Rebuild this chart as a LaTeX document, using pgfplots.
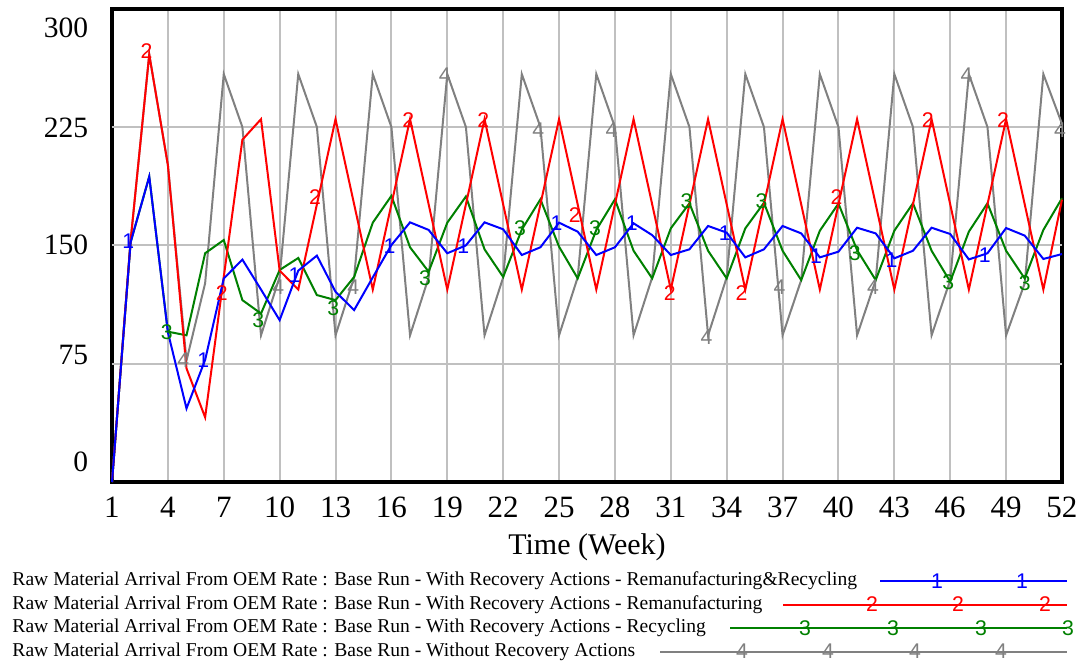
\documentclass[border=0pt]{standalone}
\usepackage{fontspec}
\setmainfont{Liberation Serif}
\newfontfamily\markfont{Liberation Sans}
\usepackage{pgfplots}
\pgfplotsset{compat=1.18}

\definecolor{vblue}{RGB}{0,0,255}
\definecolor{vred}{RGB}{255,0,0}
\definecolor{vgreen}{RGB}{0,128,0}
\definecolor{vgray}{RGB}{128,128,128}
\definecolor{vgrid}{RGB}{192,192,192}

\newcommand\mk{\markfont\fontsize{8.5}{8.5}\selectfont}
\newcommand\legfont{\fontsize{7.83}{9}\selectfont}

\pgfplotsset{
  vline/.style={line width=0.8pt, mark=none},
  vmark/.style={only marks, mark=text, text mark={#1}, text mark as node=true},
}

\begin{document}
\begin{tikzpicture}
\begin{axis}[
  scale only axis,
  width=380pt, height=189.3pt,
  xmin=1, xmax=52, ymin=0, ymax=300,
  clip=false,
  xtick={1,4,...,52},
  xmajorgrids=true,
  ytick={12.5,80.4,150.3,224.6,287.9},
  yticklabels={0,75,150,225,300},
  extra y ticks={75,150,225},
  extra y tick labels={},
  extra y tick style={ymajorgrids=true},
  grid style={vgrid, line width=0.8pt},
  major tick length=0pt,
  axis line style={line width=1.4pt},
  /pgf/number format/assume math mode=true,
  xticklabel style={font=\fontsize{12.4}{12.4}\selectfont, yshift=-2.4pt},
  yticklabel style={font=\fontsize{11.8}{11.8}\selectfont, xshift=-6pt},
  xlabel={Time (Week)},
  xlabel style={font=\fontsize{12}{12}\selectfont, at={(axis description cs:0.5,0)}, anchor=center, yshift=-26pt},
]
% 4: Without Recovery Actions
\addplot[vline, vgray] coordinates {
 (1,0) (2,153) (3,271) (4,201) (5,77) (6,126) (7,258.6) (8,225) (9,93) (10,130)
 (11,258.6) (12,225) (13,93) (14,129.7) (15,258.6) (16,225) (17,93) (18,129.7)
 (19,258.6) (20,225) (21,93) (22,129.7) (23,258.6) (24,225) (25,93) (26,129.7)
 (27,258.6) (28,225) (29,93) (30,129.7) (31,258.6) (32,225) (33,93) (34,129.7)
 (35,258.6) (36,225) (37,93) (38,128) (39,258.6) (40,225) (41,93) (42,128)
 (43,258.6) (44,225) (45,93) (46,128) (47,258.6) (48,225) (49,93) (50,126)
 (51,258.6) (52,227)
};
% 3: Recycling
\addplot[vline, vgreen] coordinates {
 (1,0) (2,152) (3,193.6) (4,95.3) (5,93) (6,145) (7,153.4) (8,115.3) (9,106.8) (10,134.4)
 (11,142) (12,118.5) (13,115.3) (14,130) (15,164.4) (16,181.4) (17,148.8) (18,133.3)
 (19,164.4) (20,181) (21,147.5) (22,130) (23,160) (24,179.2) (25,149.2) (26,129.1)
 (27,159.8) (28,179.2) (29,146.6) (30,129.1) (31,160.8) (32,176.7) (33,146.6) (34,129.1)
 (35,160.8) (36,177) (37,146.6) (38,128) (39,159.3) (40,176.5) (41,147) (42,128)
 (43,159.3) (44,176.7) (45,146.6) (46,127) (47,158.7) (48,176.7) (49,146.6) (50,129)
 (51,159.8) (52,179.9)
};
% 2: Remanufacturing
\addplot[vline, vred] coordinates {
 (1,0) (2,153) (3,271) (4,201) (5,72) (6,41) (7,130) (8,217) (9,230) (10,134)
 (11,122) (12,176) (13,230) (14,176) (15,122) (16,176) (17,230) (18,176)
 (19,122) (20,176) (21,230) (22,176) (23,122) (24,176) (25,230) (26,176)
 (27,122) (28,176) (29,230) (30,176) (31,122) (32,176) (33,230) (34,176)
 (35,122) (36,176) (37,230) (38,176) (39,122) (40,176) (41,230) (42,176)
 (43,122) (44,176) (45,230) (46,176) (47,122) (48,176) (49,230) (50,176)
 (51,122) (52,179)
};
% 1: Remanufacturing&Recycling
\addplot[vline, vblue] coordinates {
 (1,0) (2,152) (3,193.6) (4,95) (5,46.6) (6,77.4) (7,129) (8,141) (9,122) (10,102.6)
 (11,134) (12,143.5) (13,120.6) (14,109) (15,129.7) (16,150.2) (17,164.6) (18,159.8)
 (19,145) (20,150) (21,164.6) (22,160.2) (23,143.9) (24,148.8) (25,164.4) (26,158.7)
 (27,143.9) (28,148.8) (29,164) (30,156.5) (31,143.9) (32,147.5) (33,162.3) (34,158.1)
 (35,142.4) (36,147.5) (37,162.3) (38,157.6) (39,142.4) (40,146) (41,161.2) (42,157.6)
 (43,141.8) (44,146.6) (45,161.2) (46,157.2) (47,141.1) (48,145) (49,161) (50,156.2)
 (51,141.4) (52,144.5)
};
% series numbers along the lines
\addplot[vmark={4}, text mark style={font=\mk, text=vgray, inner sep=0pt}] coordinates {
 (4.83,77.3) (9.93,123.8) (13.95,123.8) (18.87,258.2) (23.88,223.3) (27.82,223.3)
 (32.92,92) (36.84,123.8) (41.86,123.8) (46.88,258.2) (51.89,223.3)
};
\addplot[vmark={3}, text mark style={font=\mk, text=vgreen, inner sep=0pt}] coordinates {
 (3.94,95.2) (8.85,102.6) (12.88,110.1) (17.8,129.1) (22.9,160.9) (26.93,160.9)
 (31.85,177.8) (35.87,177.8) (40.88,144.9) (45.9,126.9) (50,125.9)
};
\addplot[vmark={2}, text mark style={font=\mk, text=vred, inner sep=0pt}] coordinates {
 (2.86,273) (6.89,119.8) (11.9,180.9) (16.9,229.7) (20.93,229.7) (25.85,169.3)
 (30.95,119.6) (34.8,119.6) (39.9,180.9) (44.8,229.7) (48.84,229.7)
};
\addplot[vmark={1}, text mark style={font=\mk, text=vblue, inner sep=0pt}] coordinates {
 (1.87,152.4) (5.9,77.3) (10.8,131.2) (15.9,149.2) (19.86,149.2) (24.87,164)
 (28.9,164) (33.9,157.7) (38.8,142.9) (42.85,140.7) (47.86,143.9)
};
\end{axis}

% legend below the plot
\node[anchor=west, inner sep=0pt, font=\legfont] at (-40pt,-39.6pt)
  {Raw Material Arrival From OEM Rate : Base Run - With Recovery Actions - Remanufacturing\&Recycling};
\node[anchor=west, inner sep=0pt, font=\legfont] at (-40pt,-49pt)
  {Raw Material Arrival From OEM Rate : Base Run - With Recovery Actions - Remanufacturing};
\node[anchor=west, inner sep=0pt, font=\legfont] at (-40pt,-58.4pt)
  {Raw Material Arrival From OEM Rate : Base Run - With Recovery Actions - Recycling};
\node[anchor=west, inner sep=0pt, font=\legfont] at (-40pt,-67.8pt)
  {Raw Material Arrival From OEM Rate : Base Run - Without Recovery Actions};

\draw[vblue, line width=0.8pt] (307.2pt,-39.6pt) -- (382pt,-39.6pt);
\draw[vred, line width=0.8pt] (268.4pt,-49pt) -- (382pt,-49pt);
\draw[vgreen, line width=0.8pt] (247.2pt,-58.4pt) -- (382pt,-58.4pt);
\draw[vgray, line width=0.8pt] (219.2pt,-67.8pt) -- (382pt,-67.8pt);
\foreach \x in {330,364} \node[font=\mk, text=vblue, inner sep=0pt] at (\x pt,-39.6pt) {1};
\foreach \x in {304,338.4,373.2} \node[font=\mk, text=vred, inner sep=0pt] at (\x pt,-49pt) {2};
\foreach \x in {277.2,312.4,347.6,382.4} \node[font=\mk, text=vgreen, inner sep=0pt] at (\x pt,-58.4pt) {3};
\foreach \x in {252,286.4,321.2,355.6} \node[font=\mk, text=vgray, inner sep=0pt] at (\x pt,-67.8pt) {4};

\pgfresetboundingbox
\path[use as bounding box] (-44.8pt,-73.2pt) rectangle (386.8pt,192.8pt);
\end{tikzpicture}
\end{document}
